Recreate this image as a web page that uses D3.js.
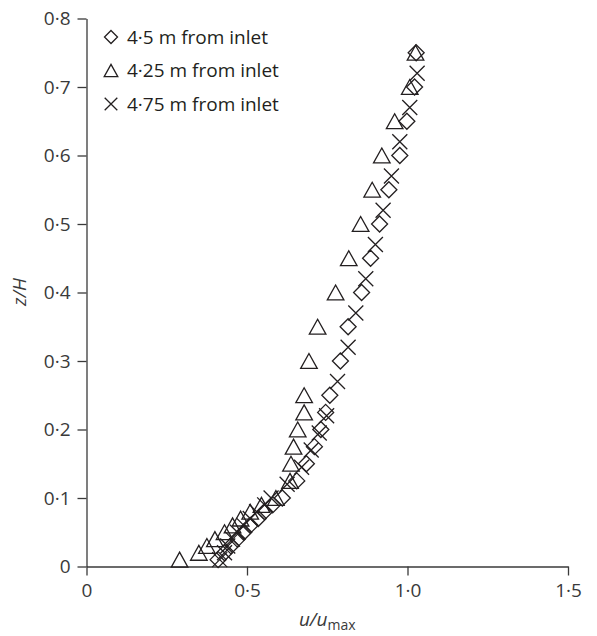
<!DOCTYPE html>
<html>
<head>
<meta charset="utf-8">
<script src="https://cdn.jsdelivr.net/npm/d3@7"></script>
<style>
  body { margin: 0; background: #fff; }
  svg { font-family: "Open Sans", "Noto Sans", sans-serif; }
  .axis path, .axis line { stroke: #3a3a3a; stroke-width: 1.3; }
  .axis text { font-size: 19px; fill: #3a3a3a; font-family: "Open Sans", sans-serif; }
  .marker { fill: none; stroke: #231f20; stroke-width: 1.3; }
  .legend text { font-size: 19px; fill: #231f20; }
</style>
</head>
<body>
<svg></svg>
<script>
// heights z/H for each profile
var zDiamond = [0.01, 0.02, 0.03, 0.04, 0.05, 0.06, 0.07, 0.08, 0.09, 0.1, 0.125, 0.15, 0.175, 0.2, 0.225, 0.25, 0.3, 0.35, 0.4, 0.45, 0.5, 0.55, 0.6, 0.65, 0.7, 0.75];
var uDiamond = [0.41, 0.43, 0.45, 0.47, 0.49, 0.51, 0.535, 0.555, 0.58, 0.61, 0.655, 0.685, 0.71, 0.73, 0.745, 0.758, 0.791, 0.815, 0.857, 0.885, 0.913, 0.942, 0.976, 0.998, 1.022, 1.027];

var zTriangle = [0.01, 0.02, 0.03, 0.04, 0.05, 0.06, 0.07, 0.08, 0.09, 0.1, 0.125, 0.15, 0.175, 0.2, 0.225, 0.25, 0.3, 0.35, 0.4, 0.45, 0.5, 0.55, 0.6, 0.65, 0.7, 0.75];
var uTriangle = [0.29, 0.35, 0.375, 0.40, 0.43, 0.455, 0.48, 0.51, 0.545, 0.59, 0.634, 0.637, 0.645, 0.658, 0.678, 0.678, 0.693, 0.72, 0.776, 0.817, 0.854, 0.89, 0.92, 0.96, 1.007, 1.025];

var zCross = [0.01, 0.02, 0.03, 0.04, 0.05, 0.06, 0.07, 0.08, 0.09, 0.1, 0.12, 0.145, 0.17, 0.195, 0.22, 0.27, 0.32, 0.37, 0.42, 0.47, 0.52, 0.57, 0.62, 0.67, 0.72];
var uCross = [0.415, 0.43, 0.44, 0.455, 0.47, 0.49, 0.51, 0.53, 0.555, 0.575, 0.625, 0.67, 0.70, 0.725, 0.748, 0.782, 0.815, 0.839, 0.87, 0.90, 0.924, 0.95, 0.976, 1.007, 1.03];

var legendLabels = ['4·5 m from inlet', '4·25 m from inlet', '4·75 m from inlet'];
var xTicks = [0, 0.5, 1.0, 1.5];
var yTicks = [0, 0.1, 0.2, 0.3, 0.4, 0.5, 0.6, 0.7, 0.8];

var width = 597;
var height = 636;
var svg = d3.select('svg')
            .attr('width', width)
            .attr('height', height);

var xScale = d3.scaleLinear()
               .domain([0, 1.5])
               .range([86.5, 568]);

var yScale = d3.scaleLinear()
               .domain([0, 0.8])
               .range([566.5, 18.5]);

var fmt = function(d) {
  return d === 0 ? '0' : d3.format('.1f')(d).replace('.', '·');
};

// marker shapes
function diamond(s) {
  return 'M0,' + (-s) + 'L' + s + ',0L0,' + s + 'L' + (-s) + ',0Z';
}
function triangle(s) {
  var h = s * 1.8;
  return 'M0,' + (-h / 2) + 'L' + s + ',' + (h / 2) + 'L' + (-s) + ',' + (h / 2) + 'Z';
}
function cross(s) {
  return 'M' + (-s) + ',' + (-s) + 'L' + s + ',' + s + 'M' + s + ',' + (-s) + 'L' + (-s) + ',' + s;
}

svg.append('g')
   .attr('class', 'axis x-axis')
   .attr('transform', `translate(0, ${yScale(0)})`)
   .call(d3.axisBottom(xScale).tickValues(xTicks).tickSize(9).tickSizeOuter(0).tickPadding(8).tickFormat(fmt));

svg.append('g')
   .attr('class', 'axis y-axis')
   .attr('transform', `translate(${xScale(0)}, 0)`)
   .call(d3.axisLeft(yScale).tickValues(yTicks).tickSize(9).tickSizeOuter(0).tickPadding(7).tickFormat(fmt));

function plot(us, zs, path, cls) {
  svg.selectAll('.' + cls)
     .data(us.map(function(u, i) { return { u: u, z: zs[i] }; }))
     .enter()
     .append('path')
       .attr('class', 'marker ' + cls)
       .attr('transform', d => `translate(${xScale(d.u)}, ${yScale(d.z)})`)
       .attr('d', path);
}

plot(uCross, zCross, cross(7.5), 'cross');
plot(uTriangle, zTriangle, triangle(8.3), 'tri');
plot(uDiamond, zDiamond, diamond(8), 'dia');

// legend
var legendShapes = [diamond(6.5), triangle(6.8), cross(6.3)];
var legend = svg.append('g').attr('class', 'legend');
legendLabels.forEach(function(label, i) {
  var ly = 37 + i * 33.5;
  legend.append('path')
        .attr('class', 'marker')
        .attr('transform', `translate(111, ${ly})`)
        .attr('d', legendShapes[i]);
  legend.append('text')
        .attr('x', 127)
        .attr('y', ly)
        .attr('dy', '0.35em')
        .text(label);
});

// axis titles
svg.append('text')
   .attr('transform', 'translate(26, 292) rotate(-90)')
   .attr('text-anchor', 'middle')
   .style('font-size', '19px')
   .style('font-style', 'italic')
   .style('fill', '#3a3a3a')
   .text('z/H');

var xt = svg.append('text')
   .attr('x', xScale(0.75))
   .attr('y', 626)
   .attr('text-anchor', 'middle')
   .style('font-size', '19px')
   .style('fill', '#3a3a3a');
xt.append('tspan').style('font-style', 'italic').text('u/u');
xt.append('tspan').attr('dy', 4).style('font-size', '14px').text('max');
</script>
</body>
</html>
